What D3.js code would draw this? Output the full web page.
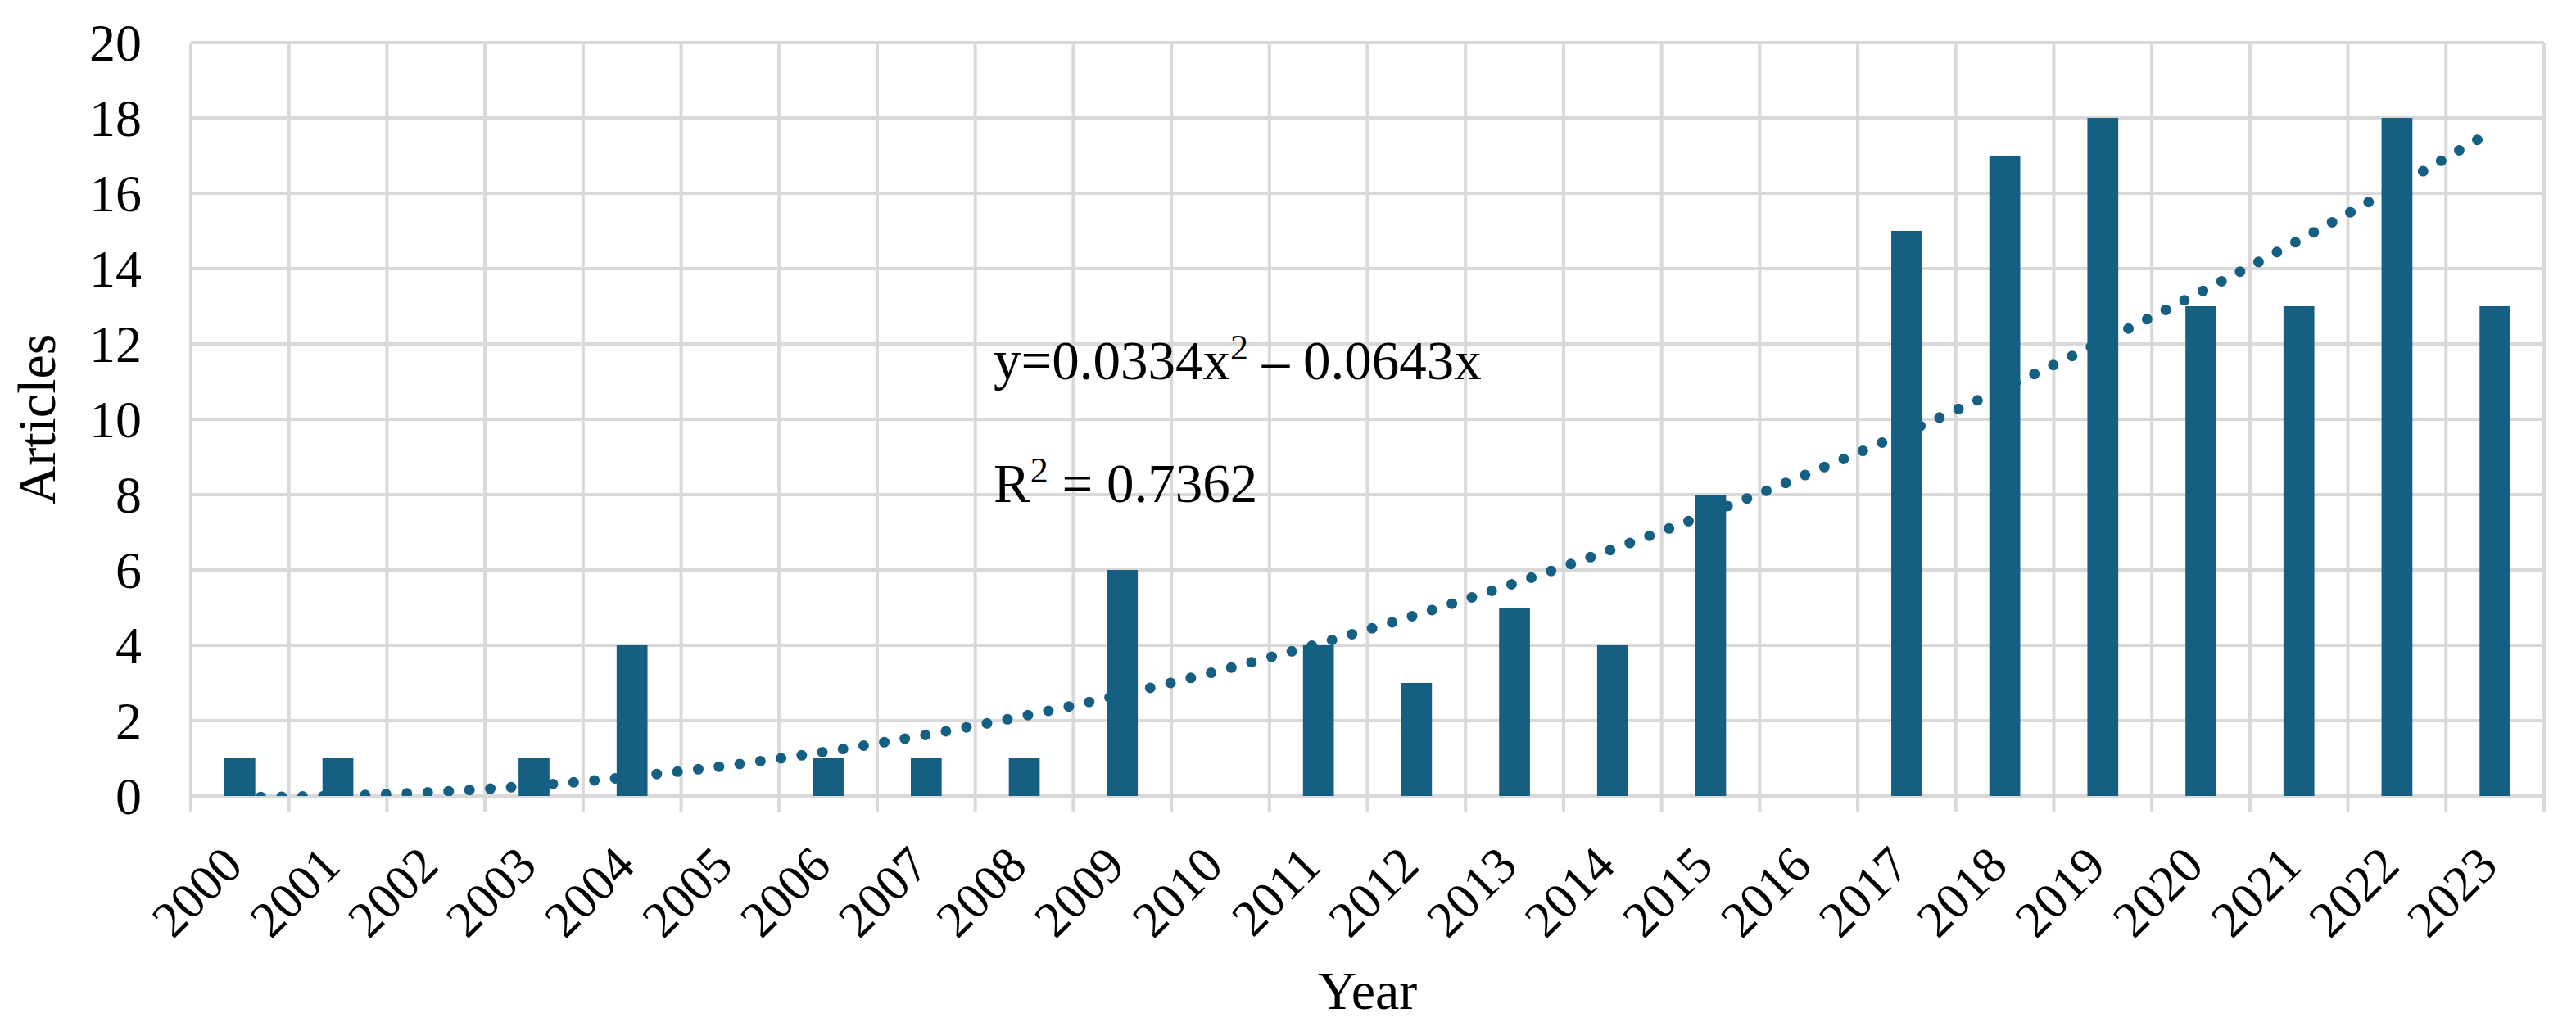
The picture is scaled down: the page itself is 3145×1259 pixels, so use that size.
<!DOCTYPE html>
<html lang="en">
<head>
  <meta charset="UTF-8">
  <title>Articles per year</title>
  <script src="https://cdn.jsdelivr.net/npm/d3@7"></script>
  <style>
    body { margin: 0; background: #fff; }
    text { font-family: "Liberation Serif", "Times New Roman", serif; fill: #000; }
  </style>
</head>
<body>
  <script>
    // data
    const years = ["2000","2001","2002","2003","2004","2005","2006","2007","2008","2009","2010","2011",
                   "2012","2013","2014","2015","2016","2017","2018","2019","2020","2021","2022","2023"];
    const articles = [1, 1, 0, 1, 4, 0, 1, 1, 1, 6, 0, 4, 3, 5, 4, 8, 0, 15, 17, 18, 13, 13, 18, 13];
    const yTicks = [0, 2, 4, 6, 8, 10, 12, 14, 16, 18, 20];
    // polynomial trendline as printed on the chart: y = a*x^2 + b*x (x = 1..24)
    const trendCoef = [0.0334, -0.0643];

    const w = 3145, h = 1259;
    const plotL = 233, plotR = 3106, plotT = 52, plotB = 972;
    const color = "#156082";

    const svg = d3.select("body").append("svg")
      .attr("width", w)
      .attr("height", h);

    const x = d3.scaleBand().domain(years).range([plotL, plotR]).padding(0);
    const y = d3.scaleLinear().domain([0, 20]).range([plotB, plotT]);

    // horizontal gridlines
    svg.append("g")
      .selectAll("line")
      .data(yTicks)
      .enter()
      .append("line")
      .attr("x1", plotL).attr("x2", plotR)
      .attr("y1", d => y(d)).attr("y2", d => y(d))
      .attr("stroke", "#d9d9d9")
      .attr("stroke-width", 4);

    // vertical gridlines, running down past the axis as tick marks
    const edges = years.map(d => x(d)).concat([plotR]);
    svg.append("g")
      .selectAll("line")
      .data(edges)
      .enter()
      .append("line")
      .attr("x1", d => d).attr("x2", d => d)
      .attr("y1", plotT).attr("y2", plotB + 19)
      .attr("stroke", "#d9d9d9")
      .attr("stroke-width", 4);

    // bars
    const bw = x.bandwidth() * 0.315;
    svg.append("g")
      .selectAll("rect")
      .data(articles)
      .enter()
      .append("rect")
      .attr("x", (d, i) => x(years[i]) + x.bandwidth() / 2 - bw / 2)
      .attr("y", d => y(d))
      .attr("width", bw)
      .attr("height", d => plotB - y(d))
      .attr("fill", color);

    // trendline (dotted), clipped to plot area
    svg.append("clipPath").attr("id", "plot")
      .append("rect")
      .attr("x", plotL).attr("y", plotT)
      .attr("width", plotR - plotL).attr("height", plotB - plotT);

    const trend = years.map((d, i) => {
      const n = i + 1;
      return [x(d) + x.bandwidth() / 2, trendCoef[0] * n * n + trendCoef[1] * n];
    });
    const line = d3.line()
      .x(d => d[0])
      .y(d => y(d[1]))
      .curve(d3.curveNatural);

    svg.append("path")
      .datum(trend)
      .attr("clip-path", "url(#plot)")
      .attr("d", line)
      .attr("fill", "none")
      .attr("stroke", color)
      .attr("stroke-width", 13)
      .attr("stroke-linecap", "round")
      .attr("stroke-dasharray", "0 25.5");

    // y axis labels
    const yAxis = d3.axisLeft(y).tickValues(yTicks).tickSize(0).tickPadding(60);
    const gy = svg.append("g")
      .attr("transform", "translate(" + plotL + ",0)")
      .call(yAxis);
    gy.select(".domain").remove();
    gy.selectAll("text")
      .style("font-size", "64px")
      .style("font-family", "'Liberation Serif', 'Times New Roman', serif")
      .attr("fill", "#000")
      .attr("dy", "0.34em");

    // x axis labels, rotated
    svg.append("g")
      .selectAll("text")
      .data(years)
      .enter()
      .append("text")
      .attr("transform", d => "translate(" + (x(d) + x.bandwidth() / 2 + 6) + "," + (plotB + 88) + ") rotate(-45)")
      .attr("text-anchor", "end")
      .style("font-size", "62px")
      .text(d => d);

    // axis titles
    svg.append("text")
      .attr("x", (plotL + plotR) / 2)
      .attr("y", 1232)
      .attr("text-anchor", "middle")
      .style("font-size", "66px")
      .text("Year");

    svg.append("text")
      .attr("transform", "translate(67," + (plotT + plotB) / 2 + ") rotate(-90)")
      .attr("text-anchor", "middle")
      .style("font-size", "66px")
      .text("Articles");

    // equation and R squared
    const eq = svg.append("text")
      .attr("x", 1213)
      .attr("y", 463)
      .style("font-size", "67px");
    eq.append("tspan").text("y=" + trendCoef[0] + "x");
    eq.append("tspan").attr("dy", -24).style("font-size", "44px").text("2");
    eq.append("tspan").attr("dy", 24).text(" \u2013 " + Math.abs(trendCoef[1]) + "x");

    const r2 = svg.append("text")
      .attr("x", 1213)
      .attr("y", 613)
      .style("font-size", "67px");
    r2.append("tspan").text("R");
    r2.append("tspan").attr("dy", -24).style("font-size", "44px").text("2");
    r2.append("tspan").attr("dy", 24).text(" = 0.7362");
  </script>
</body>
</html>
